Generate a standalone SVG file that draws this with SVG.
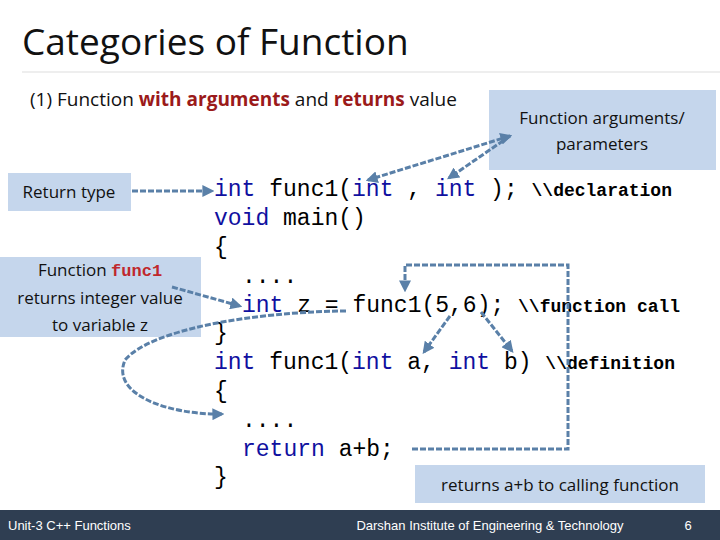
<svg xmlns="http://www.w3.org/2000/svg" width="720" height="540" viewBox="0 0 720 540">
<defs>
<style>
.c{font-family:'Liberation Mono','Courier New',Courier,monospace;font-size:23px;fill:#000;}
.k{fill:#1010a0;}
.cm{font-size:18px;font-weight:bold;}
.t{font-family:"Open Sans","Liberation Sans",sans-serif;fill:#111;}
.box{fill:#c5d6ec;}
.ln{fill:none;stroke:#5a80a8;stroke-width:3;stroke-dasharray:6,2;}
</style>
<marker id="a" viewBox="0 0 10 10" refX="8" refY="5" markerWidth="4" markerHeight="4" orient="auto-start-reverse"><path d="M0,0L10,5L0,10z" fill="#5a80a8"/></marker>
</defs>
<rect width="720" height="540" fill="#fff"/>
<text x="22" y="55" class="t" font-size="37">Categories of Function</text>
<line x1="22" y1="72" x2="720" y2="72" stroke="#ddd" stroke-width="1"/>
<text x="30" y="106" class="t" font-size="19">(1) Function <tspan fill="#9b1a1a" font-weight="bold">with arguments</tspan> and <tspan fill="#9b1a1a" font-weight="bold">returns</tspan> value</text>
<g id="n-args"><rect x="489" y="90" width="227" height="80" class="box"/><text x="602" y="124" class="t" font-size="17" text-anchor="middle">Function arguments/</text><text x="602" y="150" class="t" font-size="17" text-anchor="middle">parameters</text></g>
<g id="n-ret"><rect x="8" y="173" width="123" height="38" class="box"/><text x="69" y="198" class="t" font-size="17" text-anchor="middle">Return type</text></g>
<g id="n-func"><rect x="0" y="257" width="201" height="80" class="box"/><text x="100" y="276" class="t" font-size="17" text-anchor="middle">Function <tspan font-family="Liberation Mono,Courier New,monospace" font-weight="bold" fill="#c0282d">func1</tspan></text><text x="100" y="304" class="t" font-size="17" text-anchor="middle">returns integer value</text><text x="100" y="331" class="t" font-size="17" text-anchor="middle">to variable z</text></g>
<g id="n-retcall"><rect x="415" y="465" width="290" height="38" class="box"/><text x="560" y="491" class="t" font-size="17" text-anchor="middle">returns a+b to calling function</text></g>
<g id="code">
<text x="214" y="196" class="c"><tspan class="k">int</tspan> func1(<tspan class="k">int</tspan> , <tspan class="k">int</tspan> ); <tspan class="cm">\\declaration</tspan></text>
<text x="214" y="225" class="c"><tspan class="k">void</tspan> main()</text>
<text x="214" y="254" class="c">{</text>
<text x="242" y="283" class="c">....</text>
<text x="242" y="312" class="c"><tspan class="k">int</tspan> z = func1(5,6); <tspan class="cm">\\function call</tspan></text>
<text x="214" y="340" class="c">}</text>
<text x="214" y="369" class="c"><tspan class="k">int</tspan> func1(<tspan class="k">int</tspan> a, <tspan class="k">int</tspan> b) <tspan class="cm">\\definition</tspan></text>
<text x="214" y="398" class="c">{</text>
<text x="242" y="427" class="c">....</text>
<text x="242" y="456" class="c"><tspan class="k">return</tspan> a+b;</text>
<text x="214" y="484" class="c">}</text>
</g>
<g id="connectors">
<line x1="132" y1="191" x2="212" y2="191" class="ln" marker-end="url(#a)"/>
<line x1="510" y1="136" x2="368" y2="180" class="ln" marker-start="url(#a)" marker-end="url(#a)"/>
<line x1="510" y1="136" x2="449" y2="178" class="ln" marker-end="url(#a)"/>
<line x1="172" y1="287" x2="240" y2="306" class="ln" marker-end="url(#a)"/>
<path d="M346,311 C250,312 150,330 125,360 C110,395 170,415 222,414" class="ln" marker-end="url(#a)"/>
<path d="M412,449 L568,449 L568,265 L405,265 L405,290" class="ln" marker-end="url(#a)"/>
<line x1="450" y1="316" x2="424" y2="352" class="ln" marker-end="url(#a)"/>
<line x1="481" y1="312" x2="512" y2="351" class="ln" marker-end="url(#a)"/>
</g>
<rect x="0" y="510" width="720" height="30" fill="#2f3e52"/>
<text x="8" y="530" font-family="Liberation Sans,sans-serif" font-size="13" fill="#fff">Unit-3 C++ Functions</text>
<text x="490" y="530" font-family="Liberation Sans,sans-serif" font-size="13" fill="#fff" text-anchor="middle">Darshan Institute of Engineering &amp; Technology</text>
<text x="688" y="530" font-family="Liberation Sans,sans-serif" font-size="13" fill="#fff" text-anchor="middle">6</text>
</svg>
